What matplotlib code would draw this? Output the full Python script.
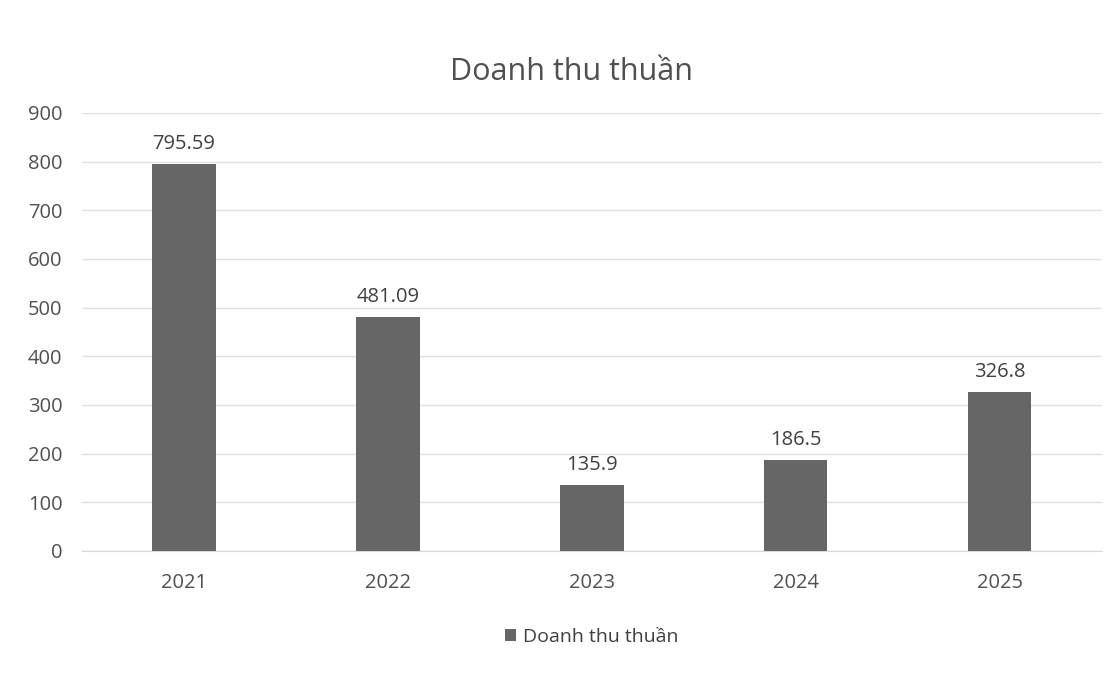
import numpy as np
import matplotlib.pyplot as plt

plt.rcParams['font.family'] = ['Open Sans', 'DejaVu Sans']

# data
years = ["2021", "2022", "2023", "2024", "2025"]
revenue = [795.59, 481.09, 135.9, 186.5, 326.8]
labels = ["795.59", "481.09", "135.9", "186.5", "326.8"]

fig = plt.figure(figsize=(11.17, 6.73), dpi=100)
ax = fig.add_axes([0.0734, 0.1813, 0.913, 0.651])

x = np.arange(len(years))
bars = ax.bar(x, revenue, width=0.31, color="#666666", zorder=3,
              label="Doanh thu thuần")

for rect, lab in zip(bars, labels):
    ax.annotate(lab, (rect.get_x() + rect.get_width() / 2, rect.get_height()),
                xytext=(0, 7), textcoords="offset points",
                ha="center", va="bottom", fontsize=14.5, color="#404040")

ax.set_xlim(-0.5, len(years) - 0.5)
ax.set_ylim(0, 900)
ax.set_yticks(np.arange(0, 901, 100))
ax.set_xticks(x)
ax.set_xticklabels(years)
ax.tick_params(axis="both", length=0, labelsize=14.5, labelcolor="#505050")
ax.tick_params(axis="x", pad=16)
ax.tick_params(axis="y", pad=14)
ax.grid(axis="y", color="#e0e0e0", linewidth=1, zorder=0)
for s in ["top", "right", "left"]:
    ax.spines[s].set_visible(False)
ax.spines["bottom"].set_color("#d9d9d9")

fig.suptitle("Doanh thu thuần", x=0.512, y=0.915, fontsize=22, color="#505050")

ax.legend(loc="upper center", bbox_to_anchor=(0.5, -0.135), frameon=False,
          fontsize=14, handlelength=0.55, handleheight=0.55, handletextpad=0.4,
          labelcolor="#404040")

fig.savefig("out.png", dpi=100, facecolor="white")
